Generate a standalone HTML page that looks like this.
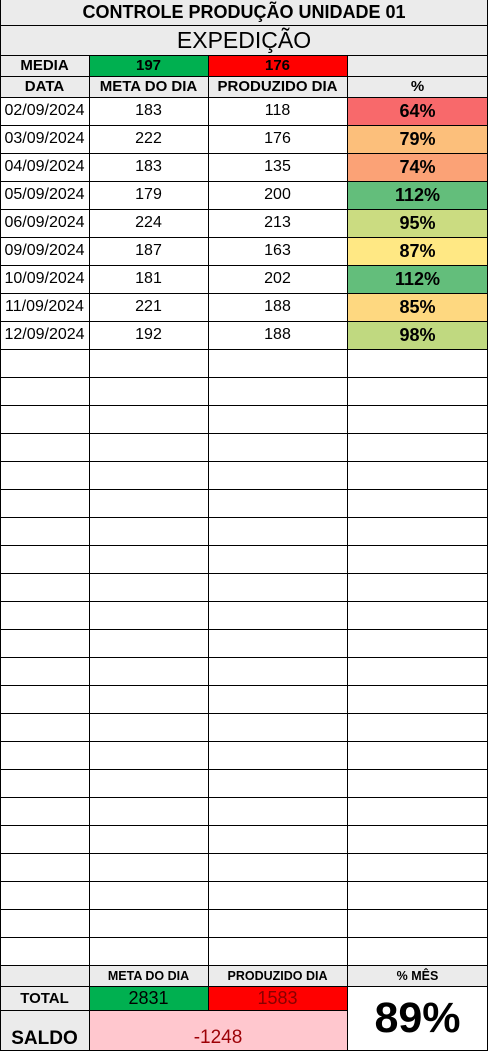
<!DOCTYPE html>
<html><head><meta charset="utf-8">
<style>
body{margin:0;width:489px;height:1051px;background:#fff;position:relative;overflow:hidden;font-family:"Liberation Sans",Arial,sans-serif;}
.c{position:absolute;box-sizing:border-box;display:flex;align-items:center;justify-content:center;color:#000;white-space:nowrap;}
.h{position:absolute;height:1px;background:#000;}
.v{position:absolute;width:1px;background:#000;}
</style></head>
<body>
<script>
const dates=["02/09/2024","03/09/2024","04/09/2024","05/09/2024","06/09/2024","09/09/2024","10/09/2024","11/09/2024","12/09/2024"];
const metas=[183,222,183,179,224,187,181,221,192];
const produced=[118,176,135,200,213,163,202,188,188];
const pcts=["64%","79%","74%","112%","95%","87%","112%","85%","98%"];
const pctColors=["#f8696b","#fcbf7b","#fba276","#63be7b","#cbdc81","#ffe884","#63be7b","#fed880","#c0d980"];
const X=[0,89,208,347,488];
function cell(x,y,w,h,txt,css,name){const d=document.createElement('div');d.className='c';
d.style.cssText=`left:${x}px;top:${y}px;width:${w}px;height:${h}px;`+(css||'');d.textContent=txt;


document.body.appendChild(d);return d;}
function hl(x,y,w){const d=document.createElement('div');d.className='h';d.style.cssText=`left:${x}px;top:${y}px;width:${w}px`;


document.body.appendChild(d);}
function vl(x,y,h){const d=document.createElement('div');d.className='v';d.style.cssText=`left:${x}px;top:${y}px;height:${h}px`;


document.body.appendChild(d);}
const G='background:#ebebeb;';
cell(0,0,488,25,'CONTROLE PRODUÇÃO UNIDADE 01',G+'font-weight:bold;font-size:18px;','sheet-title');
cell(0,25,488,30,'EXPEDIÇÃO',G+'font-size:23px;','section-title');
cell(0,55,89,21,'MEDIA',G+'font-weight:bold;font-size:15px;','media-label');
cell(89,55,119,21,'197','background:#00b050;font-weight:bold;font-size:15px;','media-meta');
cell(208,55,139,21,'176','background:#ff0000;font-weight:bold;font-size:15px;','media-produzido');
cell(347,55,141,21,'',G,'media-empty');
const hd=['DATA','META DO DIA','PRODUZIDO DIA','%'];
for(let i=0;i<4;i++)cell(X[i],76,X[i+1]-X[i],21,hd[i],G+'font-weight:bold;font-size:15px;','header-'+i);
const RT=97,RH=28;
for(let r=0;r<31;r++){const y=RT+r*RH;
 if(r<dates.length){
  cell(X[0],y,89,RH,dates[r],'font-size:16px;','date-cell');
  cell(X[1],y,119,RH,String(metas[r]),'font-size:16px;','meta-cell');
  cell(X[2],y,139,RH,String(produced[r]),'font-size:16px;','produzido-cell');
  cell(X[3],y,141,RH,pcts[r],'background:'+pctColors[r]+';font-weight:bold;font-size:18px;','percent-cell');
 }
}
const FT=RT+31*RH+1;
cell(0,FT,89,20,'',G,'footer-empty');
cell(89,FT,119,20,'META DO DIA',G+'font-weight:bold;font-size:12.5px;','footer-meta-header');
cell(208,FT,139,20,'PRODUZIDO DIA',G+'font-weight:bold;font-size:12.5px;','footer-produzido-header');
cell(347,FT,141,20,'% MÊS',G+'font-weight:bold;font-size:12.5px;','footer-pct-header');
cell(0,986,89,24,'TOTAL',G+'font-weight:bold;font-size:15px;','total-label');
cell(89,986,119,24,'2831','background:#00b050;font-size:18px;','total-meta');
cell(208,986,139,24,'1583','background:#ff0000;color:#800;font-size:18px;','total-produzido');
cell(0,1010,89,41,'SALDO',G+'font-weight:bold;font-size:19px;align-items:flex-end;padding-bottom:1px;','saldo-label');
cell(89,1010,258,41,'-1248','background:#ffc7ce;color:#9c0006;font-size:19px;align-items:flex-end;padding-bottom:2px;','saldo-value');
cell(347,986,141,65,'89%','font-weight:bold;font-size:43px;','pct-mes');
hl(0,25,488);hl(0,55,488);hl(0,76,488);hl(0,97,488);
for(let r=1;r<=31;r++)hl(0,RT+r*RH,488);
hl(0,986,488);hl(0,1010,347);hl(0,1050,488);
vl(89,55,996);vl(208,55,955);vl(347,55,996);vl(487,0,1051);vl(0,0,1051);
</script>
</body></html>
